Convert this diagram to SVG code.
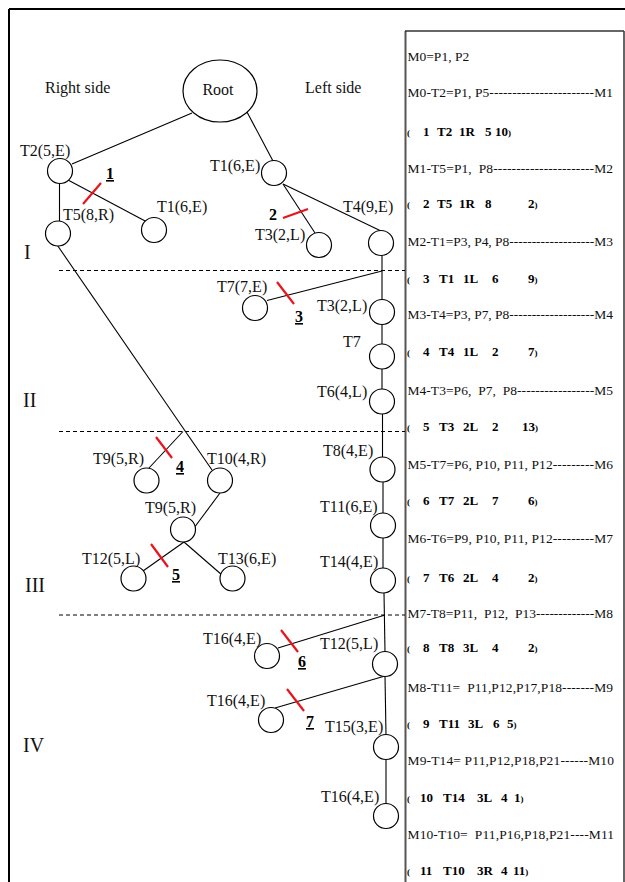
<svg xmlns="http://www.w3.org/2000/svg" width="625" height="882" viewBox="0 0 625 882">
<style>
.n{fill:#fff;stroke:#000;stroke-width:1.2}
.l{font-family:"Liberation Serif","Times New Roman",serif;font-size:16px;fill:#111}
.r{font-family:"Liberation Serif","Times New Roman",serif;font-size:20px;fill:#111}
.e{stroke:#000;stroke-width:1.1;fill:none}
.cut{stroke:#e8141b;stroke-width:2.2}
.num{font-family:"Liberation Serif","Times New Roman",serif;font-size:16px;font-weight:bold;fill:#000}
.sep{stroke:#000;stroke-width:1;stroke-dasharray:4,3}
.p{font-family:"Liberation Serif","Times New Roman",serif;font-size:13.5px;fill:#111;white-space:pre}
.b{font-family:"Liberation Serif","Times New Roman",serif;font-size:13px;font-weight:bold;fill:#000}
.br{font-size:9px}
</style>

<!-- frame -->
<g id="frame" fill="none">
<line x1="9" y1="9" x2="625" y2="9" stroke="#000" stroke-width="2"/>
<line x1="9" y1="9" x2="9" y2="882" stroke="#000" stroke-width="2"/>
<line x1="405.5" y1="31" x2="405.5" y2="882" stroke="#555" stroke-width="2"/>
<line x1="405" y1="31" x2="624" y2="31" stroke="#333" stroke-width="1.5"/>
<line x1="624" y1="31" x2="624" y2="882" stroke="#333" stroke-width="1.5"/>
</g>

<!-- separators -->
<g id="separators">
<line class="sep" x1="59" y1="270.5" x2="405" y2="270.5"/>
<line class="sep" x1="59" y1="431.5" x2="405" y2="431.5"/>
<line class="sep" x1="59" y1="615" x2="405" y2="615"/>
</g>

<!-- side labels -->
<g id="labels">
<text class="l" x="45" y="93">Right side</text>
<text class="l" x="305" y="93">Left side</text>
<text class="r" x="24" y="259">I</text>
<text class="r" x="23" y="407">II</text>
<text class="r" x="25" y="592">III</text>
<text class="r" x="23" y="752">IV</text>
</g>

<!-- connectors -->
<g id="connectors">
<line class="e" x1="192" y1="113" x2="72" y2="164"/>
<line class="e" x1="247" y1="112" x2="273" y2="161"/>
<line class="e" x1="59.5" y1="183.5" x2="59.5" y2="221" stroke="#555"/>
<line class="e" x1="68" y1="180" x2="147" y2="222"/>
<line class="e" x1="283" y1="184" x2="315" y2="233"/>
<line class="e" x1="283" y1="184" x2="380" y2="230.5"/>
<line class="e" x1="382" y1="255.5" x2="382" y2="300"/>
<line class="e" x1="382" y1="271" x2="267" y2="300.5"/>
<line class="e" x1="382" y1="324.5" x2="382" y2="344"/>
<line class="e" x1="382" y1="369" x2="382" y2="389"/>
<line class="e" x1="382.5" y1="414" x2="382.5" y2="457"/>
<line class="e" x1="383" y1="482" x2="383" y2="513"/>
<line class="e" x1="383" y1="538" x2="383" y2="568"/>
<line class="e" x1="384" y1="593" x2="385" y2="652"/>
<line class="e" x1="385" y1="615" x2="278" y2="648"/>
<line class="e" x1="385" y1="676" x2="275" y2="708"/>
<line class="e" x1="385" y1="676" x2="386" y2="735"/>
<line class="e" x1="386" y1="759.5" x2="386" y2="804"/>
<line class="e" x1="57.5" y1="245.5" x2="212" y2="470"/>
<line class="e" x1="183" y1="431.5" x2="149" y2="468"/>
<line class="e" x1="220" y1="493" x2="194" y2="528"/>
<line class="e" x1="184" y1="542" x2="143" y2="571"/>
<line class="e" x1="184" y1="542" x2="222" y2="575"/>
</g>

<!-- cuts -->
<g id="cuts">
<line class="cut" x1="83" y1="204" x2="101" y2="183"/>
<line class="cut" x1="283" y1="218" x2="308" y2="209"/>
<line class="cut" x1="277" y1="282" x2="294" y2="304"/>
<line class="cut" x1="156" y1="437" x2="172" y2="458"/>
<line class="cut" x1="151" y1="544" x2="168" y2="567"/>
<line class="cut" x1="281" y1="630" x2="298" y2="652"/>
<line class="cut" x1="287" y1="689" x2="304" y2="711"/>
<text class="num" x="106" y="179" text-decoration="underline">1</text>
<text class="num" x="269" y="220">2</text>
<text class="num" x="295" y="322" text-decoration="underline">3</text>
<text class="num" x="176" y="472" text-decoration="underline">4</text>
<text class="num" x="172" y="580" text-decoration="underline">5</text>
<text class="num" x="298" y="667" text-decoration="underline">6</text>
<text class="num" x="306" y="727" text-decoration="underline">7</text>
</g>

<!-- nodes -->
<g id="root"><ellipse class="n" cx="220" cy="91" rx="37" ry="31"/><text class="l" x="218" y="95" text-anchor="middle">Root</text></g>
<g id="t2"><circle class="n" cx="60" cy="171" r="12.5"/><text class="l" x="20" y="156">T2(5,E)</text></g>
<g id="t1"><circle class="n" cx="274" cy="173" r="12.5"/><text class="l" x="210" y="171">T1(6,E)</text></g>
<g id="t5"><circle class="n" cx="58" cy="233.5" r="12.5"/><text class="l" x="63" y="220">T5(8,R)</text></g>
<g id="t1b"><circle class="n" cx="154" cy="230" r="12.5"/><text class="l" x="157" y="212">T1(6,E)</text></g>
<g id="t3"><circle class="n" cx="319" cy="245" r="12.5"/><text class="l" x="255" y="240">T3(2,L)</text></g>
<g id="t4"><circle class="n" cx="381" cy="243" r="12.5"/><text class="l" x="343" y="212">T4(9,E)</text></g>
<g id="t7e"><circle class="n" cx="255" cy="308" r="12.5"/><text class="l" x="217" y="292">T7(7,E)</text></g>
<g id="t3b"><circle class="n" cx="382" cy="312" r="12.5"/><text class="l" x="317" y="311">T3(2,L)</text></g>
<g id="t7"><circle class="n" cx="382" cy="356.5" r="12.5"/><text class="l" x="343" y="347">T7</text></g>
<g id="t6"><circle class="n" cx="382" cy="401.5" r="12.5"/><text class="l" x="317" y="397">T6(4,L)</text></g>
<g id="t8"><circle class="n" cx="382.5" cy="469.5" r="12.5"/><text class="l" x="323" y="456">T8(4,E)</text></g>
<g id="t11"><circle class="n" cx="383" cy="525.5" r="12.5"/><text class="l" x="320" y="512">T11(6,E)</text></g>
<g id="t14"><circle class="n" cx="383" cy="580.5" r="12.5"/><text class="l" x="320" y="567">T14(4,E)</text></g>
<g id="t9a"><circle class="n" cx="146.5" cy="480.5" r="12.5"/><text class="l" x="93" y="464">T9(5,R)</text></g>
<g id="t10"><circle class="n" cx="220" cy="480.5" r="12.5"/><text class="l" x="207" y="464">T10(4,R)</text></g>
<g id="t9b"><circle class="n" cx="183" cy="529.5" r="12.5"/><text class="l" x="145" y="513">T9(5,R)</text></g>
<g id="t12a"><circle class="n" cx="133.5" cy="578.5" r="12.5"/><text class="l" x="82" y="564">T12(5,L)</text></g>
<g id="t13"><circle class="n" cx="232.5" cy="578.5" r="12.5"/><text class="l" x="218" y="564">T13(6,E)</text></g>
<g id="t16a"><circle class="n" cx="267" cy="656" r="12.5"/><text class="l" x="203" y="644">T16(4,E)</text></g>
<g id="t12b"><circle class="n" cx="385" cy="664" r="12.5"/><text class="l" x="320" y="649">T12(5,L)</text></g>
<g id="t16b"><circle class="n" cx="271" cy="720" r="12.5"/><text class="l" x="207" y="706">T16(4,E)</text></g>
<g id="t15"><circle class="n" cx="386" cy="747" r="12.5"/><text class="l" x="325" y="732">T15(3,E)</text></g>
<g id="t16c"><circle class="n" cx="386" cy="816" r="12.5"/><text class="l" x="321" y="802">T16(4,E)</text></g>

<!-- right panel -->
<g id="panel">
<text class="p" x="407.5" y="61">M0=P1, P2</text>
<text class="p" x="407.5" y="97" textLength="205.5" lengthAdjust="spacing">M0-T2=P1, P5-----------------------M1</text>
<text class="b" y="136"><tspan class="br" x="407">(</tspan><tspan x="423">1</tspan><tspan x="437">T2</tspan><tspan x="459">1R</tspan><tspan x="485">5</tspan><tspan x="495">10</tspan><tspan class="br">)</tspan></text>
<text class="p" x="407.5" y="172.5" textLength="205.5" lengthAdjust="spacing">M1-T5=P1,  P8----------------------M2</text>
<text class="b" y="208"><tspan class="br" x="407">(</tspan><tspan x="423">2</tspan><tspan x="437">T5</tspan><tspan x="459">1R</tspan><tspan x="485">8</tspan><tspan x="528">2</tspan><tspan class="br">)</tspan></text>
<text class="p" x="407.5" y="246" textLength="205.5" lengthAdjust="spacing">M2-T1=P3, P4, P8-------------------M3</text>
<text class="b" y="282.5"><tspan class="br" x="407">(</tspan><tspan x="423">3</tspan><tspan x="439">T1</tspan><tspan x="463">1L</tspan><tspan x="492">6</tspan><tspan x="528">9</tspan><tspan class="br">)</tspan></text>
<text class="p" x="407.5" y="319" textLength="205.5" lengthAdjust="spacing">M3-T4=P3, P7, P8-------------------M4</text>
<text class="b" y="356"><tspan class="br" x="407">(</tspan><tspan x="423">4</tspan><tspan x="439">T4</tspan><tspan x="463">1L</tspan><tspan x="492">2</tspan><tspan x="528">7</tspan><tspan class="br">)</tspan></text>
<text class="p" x="407.5" y="395" textLength="205.5" lengthAdjust="spacing">M4-T3=P6,  P7,  P8-----------------M5</text>
<text class="b" y="431"><tspan class="br" x="407">(</tspan><tspan x="423">5</tspan><tspan x="439">T3</tspan><tspan x="463">2L</tspan><tspan x="492">2</tspan><tspan x="522">13</tspan><tspan class="br">)</tspan></text>
<text class="p" x="407.5" y="469" textLength="205.5" lengthAdjust="spacing">M5-T7=P6, P10, P11, P12---------M6</text>
<text class="b" y="505"><tspan class="br" x="407">(</tspan><tspan x="423">6</tspan><tspan x="439">T7</tspan><tspan x="463">2L</tspan><tspan x="492">7</tspan><tspan x="528">6</tspan><tspan class="br">)</tspan></text>
<text class="p" x="407.5" y="543" textLength="205.5" lengthAdjust="spacing">M6-T6=P9, P10, P11, P12---------M7</text>
<text class="b" y="582"><tspan class="br" x="407">(</tspan><tspan x="423">7</tspan><tspan x="439">T6</tspan><tspan x="463">2L</tspan><tspan x="492">4</tspan><tspan x="528">2</tspan><tspan class="br">)</tspan></text>
<text class="p" x="407.5" y="618" textLength="205.5" lengthAdjust="spacing">M7-T8=P11,  P12,  P13-------------M8</text>
<text class="b" y="652"><tspan class="br" x="407">(</tspan><tspan x="423">8</tspan><tspan x="439">T8</tspan><tspan x="463">3L</tspan><tspan x="492">4</tspan><tspan x="528">2</tspan><tspan class="br">)</tspan></text>
<text class="p" x="407.5" y="692" textLength="205.5" lengthAdjust="spacing">M8-T11=  P11,P12,P17,P18-------M9</text>
<text class="b" y="728"><tspan class="br" x="407">(</tspan><tspan x="423">9</tspan><tspan x="439">T11</tspan><tspan x="468">3L</tspan><tspan x="493">6</tspan><tspan x="507">5</tspan><tspan class="br">)</tspan></text>
<text class="p" x="407.5" y="765" textLength="206.5" lengthAdjust="spacing">M9-T14= P11,P12,P18,P21------M10</text>
<text class="b" y="801.5"><tspan class="br" x="407">(</tspan><tspan x="420">10</tspan><tspan x="443">T14</tspan><tspan x="477">3L</tspan><tspan x="501">4</tspan><tspan x="514">1</tspan><tspan class="br">)</tspan></text>
<text class="p" x="407.5" y="839" textLength="206.5" lengthAdjust="spacing">M10-T10=  P11,P16,P18,P21----M11</text>
<text class="b" y="875"><tspan class="br" x="407">(</tspan><tspan x="420">11</tspan><tspan x="443">T10</tspan><tspan x="477">3R</tspan><tspan x="501">4</tspan><tspan x="513">11</tspan><tspan class="br">)</tspan></text>
</g>
</svg>
